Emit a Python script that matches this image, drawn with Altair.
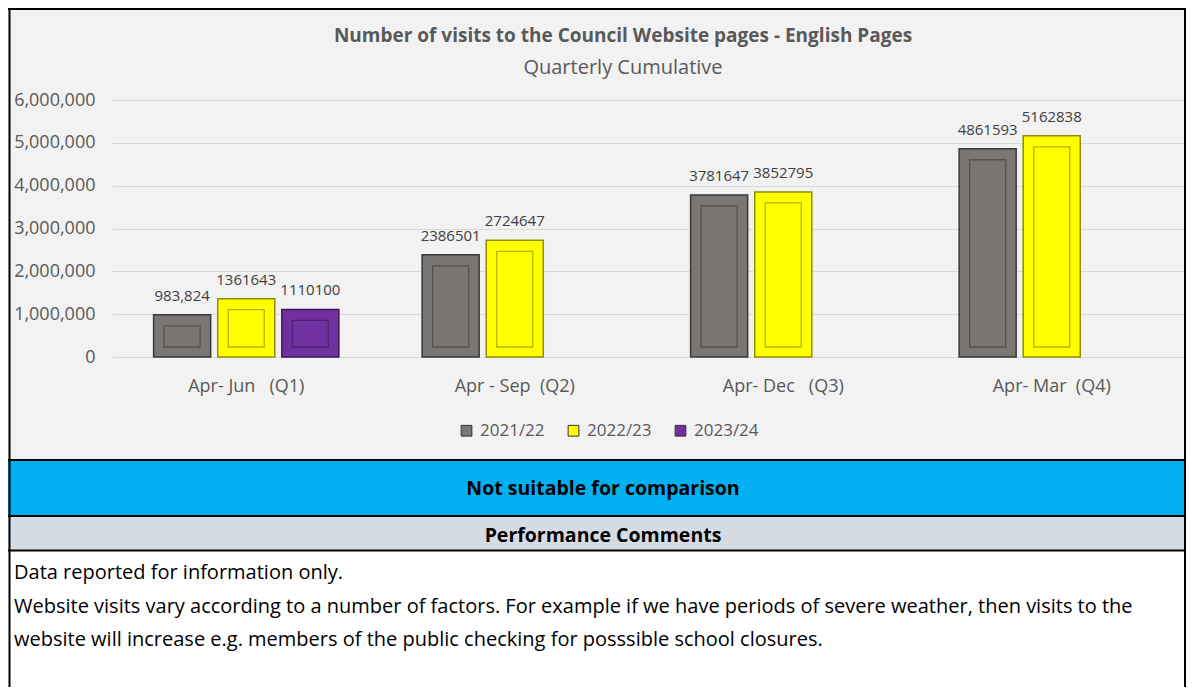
import altair as alt
import pandas as pd

# ---- data ----
quarters = ["Apr- Jun   (Q1)", "Apr - Sep  (Q2)", "Apr- Dec   (Q3)", "Apr- Mar  (Q4)"]
series = ["2021/22", "2022/23", "2023/24"]
visits_2021_22 = [983824, 2386501, 3781647, 4861593]
visits_2022_23 = [1361643, 2724647, 3852795, 5162838]
visits_2023_24 = [1110100]
labels_2021_22 = ["983,824", "2386501", "3781647", "4861593"]
labels_2022_23 = ["1361643", "2724647", "3852795", "5162838"]
labels_2023_24 = ["1110100"]
y_ticks = [0, 1000000, 2000000, 3000000, 4000000, 5000000, 6000000]

chart_title = ["Number of visits to the Council Website pages - English Pages"]
chart_subtitle = ["Quarterly Cumulative"]
banner_text = ["Not suitable for comparison"]
comments_heading = ["Performance Comments"]
comment_lines = [
    "Data reported for information only.",
    "Website visits vary according to a number of factors. For example if we have periods of severe weather, then visits to the",
    "website will increase e.g. members of the public checking for posssible school closures.",
]

fills = ["#7a7674", "#ffff00", "#7030a0"]
edges = ["#3a3938", "#8f8f00", "#3a1858"]
inner_edges = ["#555250", "#b3b300", "#4e2372"]

NB = "\u00a0"
qlab = [q.replace(" ", NB) for q in quarters]

rows = []
for vals, labs, s in [(visits_2021_22, labels_2021_22, series[0]),
                      (visits_2022_23, labels_2022_23, series[1]),
                      (visits_2023_24, labels_2023_24, series[2])]:
    for i, (v, l) in enumerate(zip(vals, labs)):
        rows.append({"quarter": qlab[i], "series": s, "value": v, "label": l})
df = pd.DataFrame(rows)

FONT = "Open Sans"
W, H = 1074, 257

base = alt.Chart(df).encode(
    x=alt.X("quarter:N", sort=qlab, title=None,
            scale=alt.Scale(domain=qlab, paddingInner=0.31, paddingOuter=0.155),
            axis=alt.Axis(labelAngle=0, labelFontSize=18, labelColor="#595959",
                          labelPadding=20, ticks=False, domain=False, grid=False,
                          labelFont=FONT)),
    xOffset=alt.XOffset("series:N", scale=alt.Scale(domain=series, paddingInner=0.11)),
    y=alt.Y("value:Q", title=None,
            scale=alt.Scale(domain=[0, 6000000], nice=False),
            axis=alt.Axis(values=y_ticks, format=",.0f", labelFontSize=18,
                          labelColor="#595959", labelPadding=17, ticks=False,
                          domain=False, gridColor="#d9d9d9", gridWidth=1.2,
                          labelFont=FONT)),
)

bars = base.mark_bar(strokeWidth=1.5).encode(
    fill=alt.Fill("series:N", scale=alt.Scale(domain=series, range=fills),
                  legend=alt.Legend(title=None, orient="none", direction="horizontal",
                                    legendX=346, legendY=322, symbolType="square",
                                    symbolSize=115, symbolStrokeColor="#333333",
                                    symbolStrokeWidth=1, labelFontSize=17,
                                    labelColor="#595959", labelFont=FONT,
                                    columnPadding=20, labelOffset=5)),
    stroke=alt.Stroke("series:N", scale=alt.Scale(domain=series, range=edges), legend=None),
)

inner = base.mark_bar(filled=False, width=36, strokeWidth=1.3, yOffset=11, y2Offset=-10).encode(
    y2=alt.Y2(datum=0),
    stroke=alt.Stroke("series:N", scale=alt.Scale(domain=series, range=inner_edges), legend=None),
)

value_text = base.mark_text(dy=-19, fontSize=15, color="#404040", font=FONT).encode(
    text="label:N"
)

# ---- decorations ----
one = pd.DataFrame({"k": [0]})

def band(color, y0, y1):
    return alt.Chart(one).mark_rect(fill=color).encode(
        x=alt.value(-104), x2=alt.value(W), y=alt.value(y0), y2=alt.value(y1))

def hline(y):
    return alt.Chart(one).mark_rule(color="black", strokeWidth=2).encode(
        x=alt.value(-104), x2=alt.value(W), y=alt.value(y))

def vline(x):
    return alt.Chart(one).mark_rule(color="black", strokeWidth=2).encode(
        x=alt.value(x), y=alt.value(-92), y2=alt.value(587))

def text_layer(texts, x, y, size, bold=False, color="black", align="center"):
    return alt.Chart(pd.DataFrame({"t": texts})).mark_text(
        fontSize=size, fontWeight="bold" if bold else "normal", color=color,
        font=FONT, align=align, baseline="middle"
    ).encode(text="t:N", x=alt.value(x), y=alt.value(y))

blue = band("#00b0f0", 360, 416)
grey = band("#d6dce4", 416, 451)
white = band("#ffffff", 451, 587)

title_t = text_layer(chart_title, 511, -64, 19, bold=True, color="#595959")
subtitle_t = text_layer(chart_subtitle, 511, -32, 20, color="#595959")
banner = text_layer(banner_text, 491, 389, 19.5, bold=True)
heading = text_layer(comments_heading, 491, 436, 19.5, bold=True)
comments = alt.layer(*[
    text_layer([line], -98, 473 + 33.5 * i, 20, align="left")
    for i, line in enumerate(comment_lines)
])

chart = alt.layer(
    blue, grey, white,
    bars, inner, value_text,
    title_t, subtitle_t, banner, heading, comments,
    hline(-91), hline(360), hline(416), hline(450.5),
    vline(-102.5), vline(1073),
).properties(
    width=W, height=H,
    padding={"left": 104, "top": 92, "right": 0, "bottom": 330},
    autosize="none",
    background="#f2f2f2",
).resolve_scale(stroke="independent").configure_view(stroke=None)

chart.save("out.html", embed_options={"renderer": "svg", "actions": False})
